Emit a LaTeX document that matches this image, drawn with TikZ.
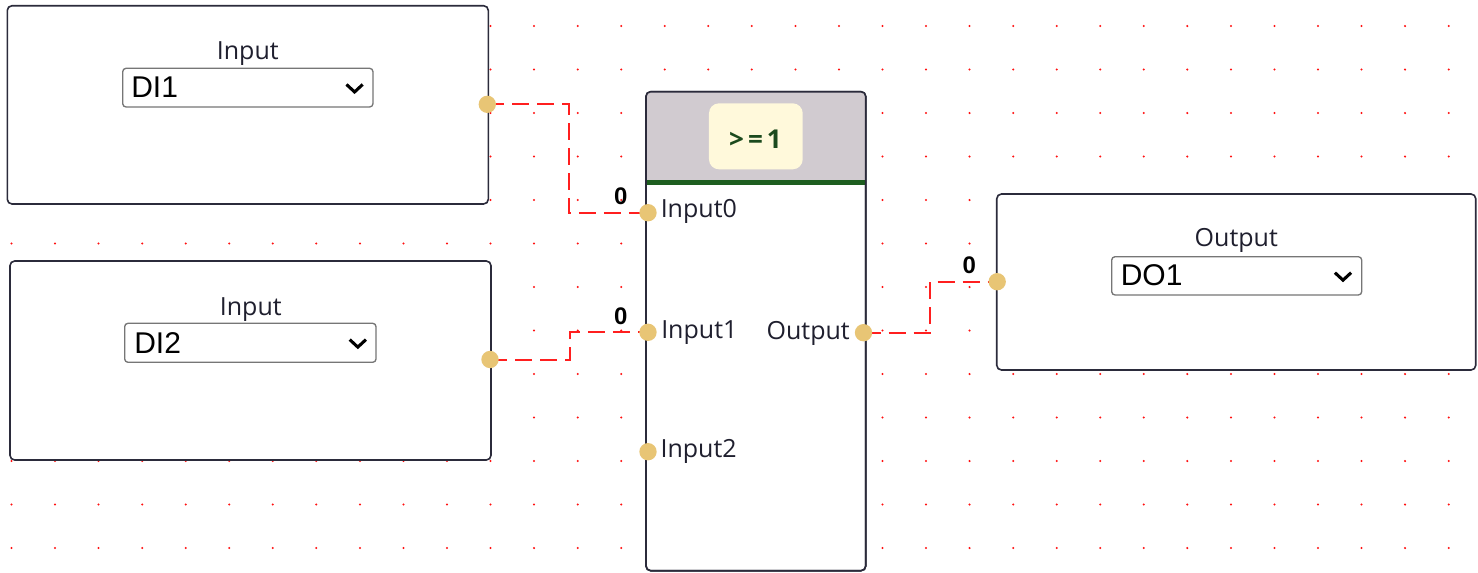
\documentclass[tikz,border=0pt]{standalone}
\usepackage{fontspec}
\setmainfont{Open Sans}
\newfontfamily\arialf{Liberation Sans}
\usetikzlibrary{calc,backgrounds}

\definecolor{frame}{HTML}{2B2B3B}
\definecolor{ink}{HTML}{1F1F2E}
\definecolor{selgray}{HTML}{767676}
\definecolor{portc}{HTML}{E8C575}
\definecolor{wirec}{HTML}{FF1F1F}
\definecolor{dotc}{HTML}{FF1010}
\definecolor{hdr}{HTML}{D1CBD0}
\definecolor{badgec}{HTML}{FFF9DB}
\definecolor{gband}{HTML}{1E5E20}
\definecolor{gtext}{HTML}{1B4A1D}

\begin{document}
\begin{tikzpicture}[x=0.75pt,y=-0.75pt,
  panel/.style={draw=frame, line width=1.2pt, fill=white, rounded corners=3.5pt,
    inner sep=0pt, outer sep=0pt},
  select/.style={draw=selgray, line width=1pt, fill=white, rounded corners=2.5pt,
    inner sep=0pt, outer sep=0pt},
  title/.style={font=\fontsize{18.75pt}{20pt}\selectfont, text=ink, inner sep=0pt, anchor=base},
  pinlabel/.style={font=\fontsize{18.75pt}{20pt}\selectfont, text=ink, inner sep=0pt},
  choice/.style={font=\arialf\fontsize{22.5pt}{24pt}\selectfont, text=black,
    inner sep=0pt, anchor=base west},
  chev/.style={line width=2.3pt, black, line join=miter},
  port/.style={circle, fill=portc, minimum size=13pt, inner sep=0pt, outer sep=0pt},
  wire/.style={draw=wirec, line width=1.5pt, dash pattern=on 12.75pt off 6pt},
  value/.style={font=\arialf\bfseries\fontsize{18pt}{20pt}\selectfont, inner sep=0pt},
  badge/.style={fill=badgec, rounded corners=7.5pt, minimum width=70.3pt,
    minimum height=49.5pt, inner sep=0pt},
  optext/.style={font=\bfseries\fontsize{19.5pt}{21pt}\selectfont, text=gtext, inner sep=0pt}
]
\useasboundingbox (0,0) rectangle (1478,572);

% ---- input block DI1 ----
\node[panel, minimum width=360.75pt, minimum height=148.7pt] (in1) at (247.8,104.85) {};
\node[title] (in1t) at (247.8,59.3) {Input};
\node[select, minimum width=187.7pt, minimum height=29pt] (dd1) at (247.85,87.65) {};
\node[choice] (dd1t) at (131,97.3) {DI1};
\draw[chev] ($(dd1.east)+(-26.5,-3.2)$) -- ++(8.1,7.5) -- ++(8.1,-7.5);
\node[port] (p-di1) at (487.3,104.3) {};

% ---- input block DI2 ----
\node[panel, minimum width=360.75pt, minimum height=149.25pt] (in2) at (250.5,360.5) {};
\node[title] (in2t) at (250.8,315) {Input};
\node[select, minimum width=188.5pt, minimum height=29.25pt] (dd2) at (250.35,342.8) {};
\node[choice] (dd2t) at (134,353.3) {DI2};
\draw[chev] ($(dd2.east)+(-26.3,-3.2)$) -- ++(8.1,7.5) -- ++(8.1,-7.5);
\node[port] (p-di2) at (490,359.5) {};

% ---- OR gate block ----
\node[panel, minimum width=164.8pt, minimum height=359.25pt] (gate) at (755.85,331.2) {};
\fill[hdr, rounded corners=3.5pt] (646,183) |- (865.7,91.7) -- (865.7,183);
\fill[gband] (646,180) rectangle (865.7,185.3);
\draw[draw=frame, line width=1.2pt, rounded corners=3.5pt]
  (gate.south west) rectangle (gate.north east);
\node[badge] (op) at (755.85,136.3) {};
\node[optext] (opt) at (755.5,139.3) {>\kern3pt=\kern3pt1};

\node[port] (p-in0) at (648,212.7) {};
\node[port] (p-in1) at (648,332.3) {};
\node[port] (p-in2) at (648,451.7) {};
\node[port] (p-out) at (863.5,332.7) {};
\node[pinlabel, anchor=base west] (l-in0) at (660.5,217.7) {Input0};
\node[pinlabel, anchor=base west] (l-in1) at (661,338.3) {Input1};
\node[pinlabel, anchor=base west] (l-in2) at (660.3,457.3) {Input2};
\node[pinlabel, anchor=base east] (l-out) at (850,339.3) {Output};

% ---- output block DO1 ----
\node[panel, minimum width=359.2pt, minimum height=132pt] (out1) at (1236.25,282) {};
\node[title] (out1t) at (1236.3,246.7) {Output};
\node[select, minimum width=187.5pt, minimum height=28.7pt] (dd3) at (1236.7,275.85) {};
\node[choice] (dd3t) at (1120.5,285) {DO1};
\draw[chev] ($(dd3.east)+(-26.8,-3.2)$) -- ++(8.1,7.5) -- ++(8.1,-7.5);
\node[port] (p-do1) at (997.2,281.7) {};

% ---- signal values ----
\node[value] (v-in0) at (620.7,196) {0};
\node[value] (v-in1) at (620.7,315.8) {0};
\node[value] (v-do1) at (969.2,265.7) {0};

% ---- canvas dots and wires, under the blocks ----
\begin{scope}[on background layer]
  \fill[white] (0,0) rectangle (1478,572);
  \foreach \i in {0,...,33}{
    \foreach \j in {0,...,12}{
      \fill[dotc] (11.5+43.55*\i, 26+43.5*\j) circle[radius=0.85pt];
    }
  }
  \coordinate (k1) at (568.5,212.7);
  \coordinate (k2) at (569.5,332.3);
  \coordinate (k3) at (930,281.7);
  \draw[wire] (p-di1.center) -| (k1) -- (p-in0.center);
  \draw[wire] (p-di2.center) -| (k2) -- (p-in1.center);
  \draw[wire] (p-out.center) -| (k3) -- (p-do1.center);
\end{scope}
\end{tikzpicture}
\end{document}
